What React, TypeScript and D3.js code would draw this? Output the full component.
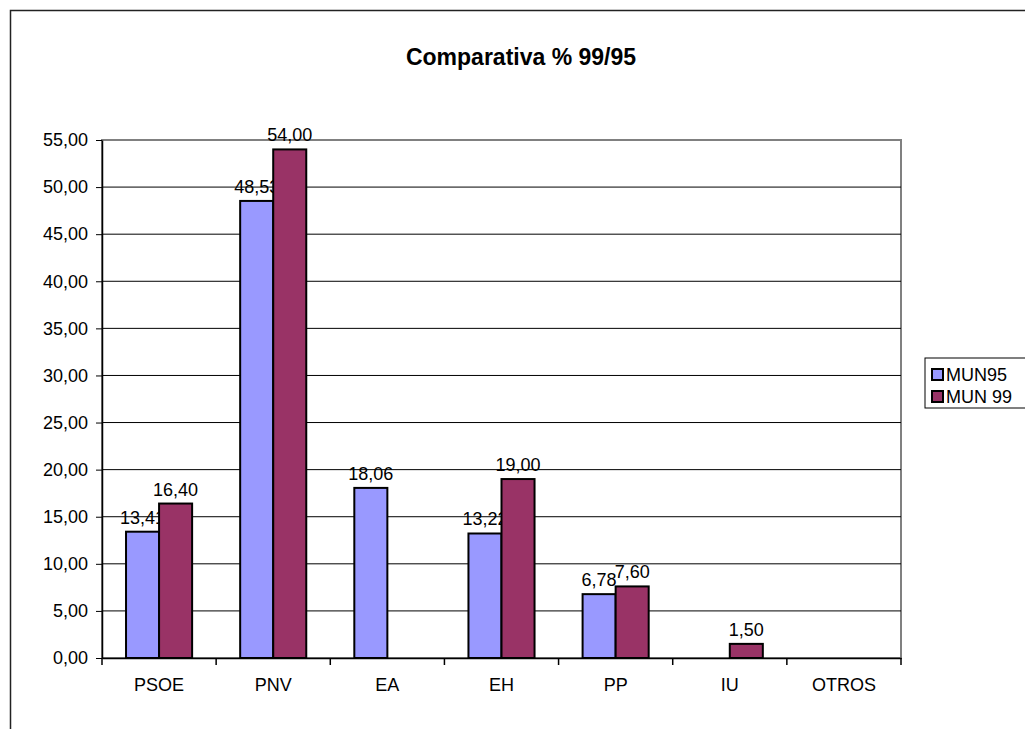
import React, { useRef, useEffect } from 'react';
import * as d3 from 'd3';

const categories = ['PSOE', 'PNV', 'EA', 'EH', 'PP', 'IU', 'OTROS'];
const seriesNames = ['MUN95', 'MUN 99'];
const mun95 = [13.41, 48.53, 18.06, 13.22, 6.78, 0, 0];
const mun99 = [16.4, 54.0, 0, 19.0, 7.6, 1.5, 0];
const yTicks = [0, 5, 10, 15, 20, 25, 30, 35, 40, 45, 50, 55];
const colors = ['#9999FF', '#993366'];

const fmt = (v: number) => v.toFixed(2).replace('.', ',');

const App: React.FC = () => {
  const ref = useRef<SVGSVGElement | null>(null);

  useEffect(() => {
    if (!ref.current) return;
    const svg = d3.select(ref.current);
    svg.selectAll('*').remove();

    const font = 'Liberation Sans, Arial, sans-serif';
    const margin = { top: 140, right: 124, bottom: 71, left: 102 };
    const width = 1025;
    const height = 729;

    // outer chart border (extends past the picture right and bottom)
    svg.append('rect')
      .attr('x', 10.5).attr('y', 10.5)
      .attr('width', 1030).attr('height', 740)
      .attr('fill', 'white')
      .attr('stroke', '#222').attr('stroke-width', 1.5);

    svg.append('text')
      .attr('x', 521).attr('y', 65)
      .attr('text-anchor', 'middle')
      .attr('font-family', font)
      .attr('font-weight', 'bold')
      .attr('font-size', 23)
      .text('Comparativa % 99/95');

    const x = d3.scaleBand<string>()
      .domain(categories)
      .range([margin.left, width - margin.right]);

    const x1 = d3.scaleBand<number>()
      .domain([0, 1])
      .range([0, x.bandwidth()])
      .paddingOuter(0.727)
      .paddingInner(0);

    const y = d3.scaleLinear()
      .domain([0, 55])
      .range([height - margin.bottom, margin.top]);

    // plot area border
    svg.append('rect')
      .attr('x', margin.left).attr('y', y(55))
      .attr('width', width - margin.right - margin.left)
      .attr('height', y(0) - y(55))
      .attr('fill', 'none')
      .attr('stroke', '#808080').attr('stroke-width', 2);

    // gridlines
    svg.append('g')
      .selectAll('line')
      .data(yTicks.filter(t => t > 0 && t < 55))
      .join('line')
      .attr('x1', margin.left).attr('x2', width - margin.right)
      .attr('y1', d => y(d)).attr('y2', d => y(d))
      .attr('stroke', 'black').attr('stroke-width', 1);

    // y axis
    const yAxis = svg.append('g')
      .attr('transform', `translate(${margin.left},0)`)
      .call(d3.axisLeft(y).tickValues(yTicks).tickFormat(d => fmt(d as number)).tickSize(6).tickPadding(8).tickSizeOuter(0));
    yAxis.select('.domain').attr('stroke-width', 1.5);
    yAxis.selectAll('text').attr('font-family', font).attr('font-size', 18).attr('fill', 'black');

    // x axis
    const xAxis = svg.append('g')
      .attr('transform', `translate(0,${y(0)})`)
      .call(d3.axisBottom(x).tickSize(0).tickPadding(20).tickSizeOuter(0));
    xAxis.select('.domain').attr('stroke-width', 1.5);
    xAxis.selectAll('text').attr('font-family', font).attr('font-size', 18).attr('fill', 'black');
    xAxis.selectAll('line.sep')
      .data(d3.range(categories.length + 1))
      .join('line')
      .attr('class', 'sep')
      .attr('x1', i => margin.left + i * x.step())
      .attr('x2', i => margin.left + i * x.step())
      .attr('y1', 0).attr('y2', 7)
      .attr('stroke', 'black').attr('stroke-width', 1.5);

    const series = [mun95, mun99];
    series.forEach((vals, s) => {
      const items = categories.map((c, i) => ({ c, v: vals[i] })).filter(d => d.v > 0);
      svg.append('g')
        .selectAll('rect')
        .data(items)
        .join('rect')
        .attr('x', d => (x(d.c) ?? 0) + (x1(s) ?? 0))
        .attr('y', d => y(d.v))
        .attr('width', x1.bandwidth())
        .attr('height', d => y(0) - y(d.v))
        .attr('fill', colors[s])
        .attr('stroke', 'black').attr('stroke-width', 2);
      svg.append('g')
        .selectAll('text')
        .data(items)
        .join('text')
        .attr('x', d => (x(d.c) ?? 0) + (x1(s) ?? 0) + x1.bandwidth() / 2)
        .attr('y', d => y(d.v) - 8)
        .attr('text-anchor', 'middle')
        .attr('font-family', font)
        .attr('font-size', 18)
        .text(d => fmt(d.v));
    });

    // legend
    const legend = svg.append('g');
    legend.append('rect')
      .attr('x', 925).attr('y', 358)
      .attr('width', 120).attr('height', 50)
      .attr('fill', 'white')
      .attr('stroke', 'black').attr('stroke-width', 1);
    seriesNames.forEach((n, i) => {
      legend.append('rect')
        .attr('x', 932).attr('y', 369 + i * 22)
        .attr('width', 11).attr('height', 11)
        .attr('fill', colors[i])
        .attr('stroke', 'black').attr('stroke-width', 2);
      legend.append('text')
        .attr('x', 946).attr('y', 381 + i * 22)
        .attr('font-family', font)
        .attr('font-size', 18)
        .text(n);
    });
  }, []);

  return (
    <svg
      ref={ref}
      width={1025}
      height={729}
      style={{ position: 'absolute', left: 0, top: 0, display: 'block' }}
    />
  );
};

export default App;
